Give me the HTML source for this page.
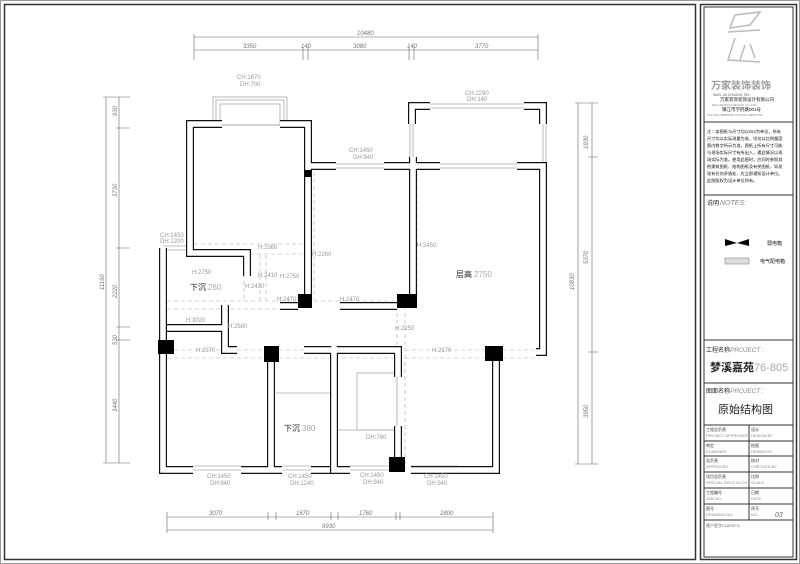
<!DOCTYPE html>
<html><head><meta charset="utf-8"><style>
html,body{margin:0;padding:0;background:#fff}
svg{display:block}
text{font-family:"Liberation Sans","Noto Sans CJK SC",sans-serif}
.g{fill:#999;font-size:6px}
.d{fill:#777;font-size:6px;font-style:italic}
.k{fill:#111;font-size:5px}
</style></head><body>
<svg width="800" height="564" viewBox="0 0 800 564" xmlns="http://www.w3.org/2000/svg">
<rect x="0.5" y="0.5" width="799" height="563" fill="none" stroke="#999" stroke-width="1"/>
<rect x="4.5" y="4.5" width="691" height="555" fill="none" stroke="#333" stroke-width="1.5"/>
<rect x="700.5" y="4.5" width="96" height="555" fill="none" stroke="#333" stroke-width="1.5"/>
<rect x="704" y="7" width="89" height="550" fill="none" stroke="#333" stroke-width="1"/>

<g stroke="#666" stroke-width="0.6" fill="none">
<path d="M194,37H538M194,50H538M194,34V60M538,34V60M303,47V60M308,47V60M409,47V60M414,47V60"/>
<path d="M106,97V463M119,97V463M103,97H130M103,463H130M116,128H130M116,248H130M116,327H130M116,340H130"/>
<path d="M167,517H493M167,530H493M167,512V533M493,512V533M268,512V520M276,512V520M331,512V520M338,512V520M396,512V520M400,512V520"/>
</g>
<text x="357" y="35" class="d">10480</text>
<text x="243" y="48" class="d">3350</text><text x="301" y="48" class="d">140</text>
<text x="353" y="48" class="d">3080</text><text x="407" y="48" class="d">140</text>
<text x="475" y="48" class="d">3770</text>
<g class="d">
<text transform="translate(104,290) rotate(-90)">11160</text>
<text transform="translate(117,116) rotate(-90)">930</text>
<text transform="translate(117,197) rotate(-90)">3730</text>
<text transform="translate(117,298) rotate(-90)">2220</text>
<text transform="translate(117,345) rotate(-90)">530</text>
<text transform="translate(117,412) rotate(-90)">3440</text>
<text transform="translate(588,149) rotate(-90)">1830</text>
<text transform="translate(588,264) rotate(-90)">5370</text>
<text transform="translate(574,290) rotate(-90)">10830</text>
<text transform="translate(588,418) rotate(-90)">3950</text>
</g>
<text x="209" y="515" class="d">3070</text><text x="296" y="515" class="d">1670</text>
<text x="359" y="515" class="d">1760</text><text x="440" y="515" class="d">2800</text>
<text x="322" y="528" class="d">9930</text>
<g stroke="#666" stroke-width="0.6"><path d="M578,103V464M592,103V464M575,103H598M575,464H598M588,157H598M588,352H598"/></g>

<g fill="none" stroke="#aaa" stroke-width="0.8">
<rect x="213" y="97" width="74" height="28"/><rect x="216" y="100" width="68" height="25"/><rect x="220" y="104" width="60" height="21"/>
<path d="M336,164H384M336,168H384M440,164H517M440,168H517"/>
<path d="M428,104H527M428,108H527M410,124V160M413,124V160M543,124V162M546,124V162"/>
<path d="M163,246H187M163,250H187"/>
<path d="M193,466H241M193,470H241M283,466H311M283,470H311M350,466H389M350,470H389M411,466H458M411,470H458"/>
<rect x="357" y="373" width="40" height="57"/><path d="M338,430H397M276,393H330"/>
</g>
<g fill="none" stroke="#aaa" stroke-width="0.6" stroke-dasharray="4,3">
<path d="M194,244H305M194,254H305M167,301H400M167,309H300M167,350H540M167,358H540M314,172V300M417,172V300M228,320V350M397,306V470M405,306V470M260,255V300M266,255V300M244,260V300"/>
</g>
<g fill="none" stroke="#111" stroke-width="8" stroke-linejoin="miter">
<path id="w" d="M222,124H190V253H247V276M280,124H308V166H336M384,166H440M413,157V302M517,166H543V352H536M308,168V300M280,306H298M340,306H397M163,248V470H193M241,470H282M271,354V470M311,470H330M334,346V470H350M304,350H398V377M398,426V462M411,470H458M458,470H496V354M167,328H223M225,305V350H237M430,106H412V124M524,106H543V124"/>
</g>
<g fill="none" stroke="#fff" stroke-width="5.6"><use href="#w"/></g>
<g fill="#000">
<rect x="305" y="170" width="6" height="7"/>
<rect x="298" y="294" width="14" height="14"/><rect x="397" y="294" width="20" height="14"/>
<rect x="158" y="340" width="16" height="14"/><rect x="264" y="346" width="15" height="16"/>
<rect x="485" y="346" width="18" height="15"/><rect x="389" y="457" width="16" height="15"/>
</g>
<g class="g">
<text x="237" y="79">CH:1670</text><text x="240" y="86">DH:700</text>
<text x="465" y="95">CH:2290</text><text x="467" y="101">DH:140</text>
<text x="349" y="152">CH:1450</text><text x="353" y="159">DH:940</text>
<text x="160" y="237">CH:1450</text><text x="160" y="243">DH:1200</text>
<text x="258" y="249">H:2560</text><text x="312" y="256">H:2260</text>
<text x="417" y="247">H:2450</text><text x="192" y="274">H:2750</text>
<text x="258" y="277">H:2410</text><text x="280" y="278">H:2750</text>
<text x="245" y="288">H:2430</text><text x="277" y="301">H:2470</text>
<text x="340" y="301">H:2470</text><text x="186" y="322">H:3020</text>
<text x="228" y="328">H:2580</text><text x="395" y="330">H:2250</text>
<text x="196" y="352">H:2370</text><text x="432" y="352">H:2370</text>
<text x="366" y="439">DH:760</text>
<text x="207" y="478">CH:1450</text><text x="210" y="485">DH:940</text>
<text x="288" y="478">CH:1450</text><text x="290" y="485">DH:1240</text>
<text x="360" y="477">CH:1450</text><text x="363" y="484">DH:940</text>
<text x="424" y="478">CH:1450</text><text x="427" y="485">DH:940</text>
</g>
<text x="190" y="290" font-size="8" fill="#222">下沉</text><text x="208" y="290" font-size="8" fill="#aaa">260</text>
<text x="284" y="431" font-size="8" fill="#222">下沉</text><text x="302" y="431" font-size="8" fill="#aaa">380</text>
<text x="456" y="277" font-size="8" fill="#222">层高</text><text x="474" y="277" font-size="8" fill="#aaa">2750</text>

<g stroke="#333" stroke-width="1" fill="none">
<path d="M704,122H793M704,195H793M704,340H793M704,383H793M704,425H793M704,441H793M704,456H793M704,472H793M704,488H793M704,504H793M704,520H793M749,425V520"/>
</g>
<path d="M735,15 L760,12 L750,25 L730,28 Z M728,32 L760,30 M735,38 L728,60 L760,62 M745,45 L740,60 M750,44 L755,58" stroke="#bbb" stroke-width="1.5" fill="none"/>
<text x="711" y="89" font-size="10" fill="#999" font-weight="bold">万家装饰装饰</text>
<text x="713" y="96" font-size="3.5" fill="#666">WAN JIA ZHUANG SHI</text>
<text x="720" y="101" font-size="4.5" fill="#111">万家装饰装饰设计有限公司</text>
<text x="712" y="106" font-size="3" fill="#888">DECORATION DESIGN CO.,LTD.</text>
<text x="722" y="111" font-size="4.5" fill="#111">镇江市学府路001号</text>
<text x="707" y="116" font-size="3" fill="#888">TEL:0511-88885566 FAX:0511-88887788</text>
<g fill="#111" font-size="4.2">
<text x="707" y="133">注：本图纸与尺寸均以mm为单位，所有</text>
<text x="707" y="140">尺寸均以实际测量为准，切勿以比例量度</text>
<text x="707" y="147">图内数字所示为准，图纸上所有尺寸可能</text>
<text x="707" y="154">与现场实际尺寸有所出入，遇此情况以现</text>
<text x="707" y="161">场实际为准。使用此图时，应同时参照其</text>
<text x="707" y="168">他建筑图纸、结构图纸及有关图纸，如发</text>
<text x="707" y="175">现有任何矛盾处，应立即通知设计单位。</text>
<text x="707" y="182">此图版权为设计单位所有。</text>
</g>
<text x="707" y="205" font-size="6" fill="#222">说明</text><text x="720" y="205" font-size="7" fill="#888" font-style="italic" font-family="Liberation Serif">NOTES:</text>
<path d="M725,239 L737,243 L749,239 V246 L737,243 L725,246Z" fill="#000"/>
<text x="767" y="245" class="k">弱电箱</text>
<rect x="725" y="258" width="24" height="6" fill="#ddd" stroke="#888" stroke-width="0.6"/>
<text x="760" y="263" class="k">电气配电箱</text>
<text x="706" y="352" font-size="6" fill="#222">工程名称</text><text x="730" y="352" font-size="6.5" fill="#888" font-style="italic" font-family="Liberation Serif">PROJECT :</text>
<text x="710" y="371" font-size="11" fill="#222" font-weight="bold">梦溪嘉苑</text><text x="754" y="371" font-size="11" fill="#aaa">76-805</text>
<text x="706" y="393" font-size="6" fill="#222">图面名称</text><text x="730" y="393" font-size="6.5" fill="#888" font-style="italic" font-family="Liberation Serif">PROJECT :</text>
<text x="718" y="413" font-size="11" fill="#222">原始结构图</text>
<g font-size="4" fill="#333">
<text x="706" y="431">工程总负责</text><text x="706" y="437" fill="#888">PROJECT APPROVER</text>
<text x="751" y="431">设计</text><text x="751" y="437" fill="#888">DESIGN BY</text>
<text x="706" y="447">审定</text><text x="706" y="453" fill="#888">EXAMINED</text>
<text x="751" y="447">绘图</text><text x="751" y="453" fill="#888">DRAWN BY</text>
<text x="706" y="462">总负责</text><text x="706" y="468" fill="#888">APPROVED</text>
<text x="751" y="462">校对</text><text x="751" y="468" fill="#888">CHECKED BY</text>
<text x="706" y="478">项目总负责</text><text x="706" y="484" fill="#888">SPECIAL FIELD IN CH</text>
<text x="751" y="478">比例</text><text x="751" y="484" fill="#888">SCALE</text>
<text x="706" y="494">工程编号</text><text x="706" y="500" fill="#888">JOB NO.</text>
<text x="751" y="494">日期</text><text x="751" y="500" fill="#888">DATE</text>
<text x="706" y="510">图号</text><text x="706" y="516" fill="#888">DRAWING NO.</text>
<text x="751" y="510">序号</text><text x="751" y="516" fill="#888">NO.</text>
<text x="706" y="527" fill="#666">客户签字CLIENT'S</text>
</g>
<text x="775" y="517" font-size="7" fill="#666" font-style="italic">03</text>
</svg>
</body></html>
